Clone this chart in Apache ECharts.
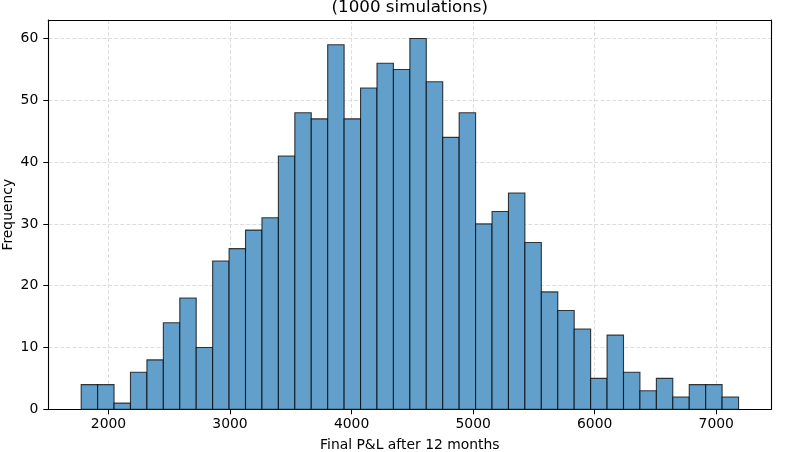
<!DOCTYPE html>
<html>
<head>
<meta charset="utf-8">
<script src="https://cdn.jsdelivr.net/npm/echarts@6/dist/echarts.min.js"></script>
<style>
html,body{margin:0;padding:0;background:#fff;}
#main{width:787px;height:452px;}
</style>
</head>
<body>
<div id="main"></div>
<script>
// Histogram data
const binStart = 1775.5;
const binWidth = 135.2;
const counts = [4,4,1,6,8,14,18,10,24,26,29,31,41,48,47,59,47,52,56,55,60,53,44,48,30,32,35,27,19,16,13,5,12,6,3,5,2,4,4,2];
const xTicks = [2000,3000,4000,5000,6000,7000];
const yTicks = [0,10,20,30,40,50,60];
const titleText = '(1000 simulations)';
const xLabel = 'Final P&L after 12 months';
const yLabel = 'Frequency';

const bins = counts.map((c, i) => [binStart + i * binWidth, binStart + (i + 1) * binWidth, c]);
const font = 'DejaVu Sans';
const gridStyle = {color: '#dddddd', type: [4, 2], width: 1};

const chart = echarts.init(document.getElementById('main'), null, {renderer: 'canvas'});
const option = {
  animation: false,
  backgroundColor: '#fff',
  grid: {left: 48.3, right: 15.7, top: 20, bottom: 42.7, show: false, containLabel: false, outerBoundsMode: 'none'},
  graphic: [
    {type: 'text', x: 409.8, y: 7.5, style: {text: titleText, font: '16.7px "DejaVu Sans"', fill: '#000', align: 'center', verticalAlign: 'middle'}},
    {type: 'text', x: 8.5, y: 214.7, rotation: Math.PI / 2, style: {text: yLabel, font: '13.9px "DejaVu Sans"', fill: '#000', align: 'center', verticalAlign: 'middle'}}
  ],
  xAxis: [{
    type: 'value', min: 1505, max: 7453,
    name: xLabel, nameLocation: 'middle', nameGap: 29,
    nameTextStyle: {fontFamily: font, fontSize: 13.9, color: '#000'},
    axisLine: {show: true, onZero: false, lineStyle: {color: '#000', width: 1.1}},
    axisTick: {show: true, length: 5, customValues: xTicks, lineStyle: {color: '#000', width: 1}},
    axisLabel: {margin: 8, fontFamily: font, fontSize: 13.9, color: '#000', customValues: xTicks, formatter: v => String(v)},
    splitLine: {show: true, lineStyle: gridStyle}
  }, {
    type: 'value', min: 1505, max: 7453, position: 'top',
    axisLine: {show: true, onZero: false, lineStyle: {color: '#000', width: 1.1}},
    axisTick: {show: false}, axisLabel: {show: false}, splitLine: {show: false}
  }],
  yAxis: [{
    type: 'value', min: 0, max: 63,
    axisLine: {show: true, onZero: false, lineStyle: {color: '#000', width: 1.1}},
    axisTick: {show: true, length: 5, customValues: yTicks, lineStyle: {color: '#000', width: 1}},
    axisLabel: {margin: 10, fontFamily: font, fontSize: 13.9, color: '#000', customValues: yTicks, formatter: v => String(v)},
    splitLine: {show: true, lineStyle: gridStyle}
  }, {
    type: 'value', min: 0, max: 63, position: 'right',
    axisLine: {show: true, onZero: false, lineStyle: {color: '#000', width: 1.1}},
    axisTick: {show: false}, axisLabel: {show: false}, splitLine: {show: false}
  }],
  series: [{
    type: 'custom',
    xAxisIndex: 0, yAxisIndex: 0,
    data: bins,
    encode: {x: [0, 1], y: 2},
    renderItem: function (params, api) {
      const p0 = api.coord([api.value(0), api.value(2)]);
      const p1 = api.coord([api.value(1), 0]);
      return {
        type: 'rect',
        shape: {x: p0[0], y: p0[1], width: p1[0] - p0[0], height: p1[1] - p0[1]},
        style: {fill: '#62a0cb', stroke: 'rgba(0,0,0,0.75)', lineWidth: 1.1}
      };
    }
  }]
};
chart.setOption(option);
</script>
</body>
</html>
